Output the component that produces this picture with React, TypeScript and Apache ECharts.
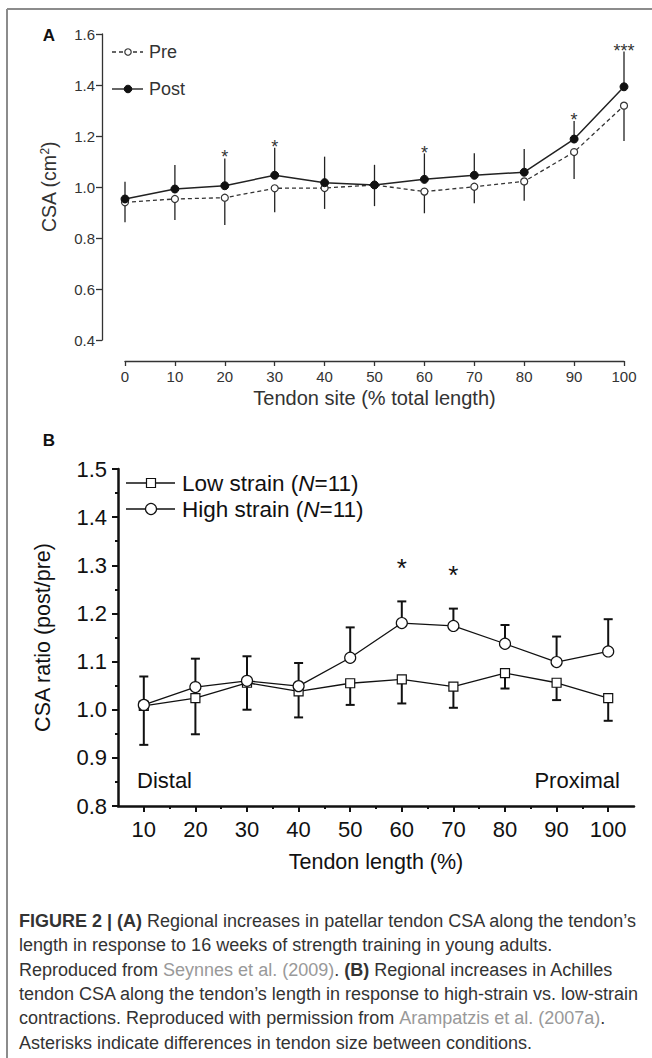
import React, { useEffect, useRef } from 'react';
import * as echarts from 'echarts';

const FONT = '"Liberation Sans", Arial, Helvetica, sans-serif';

// ---------- Panel A data ----------
const sitesA = [0, 10, 20, 30, 40, 50, 60, 70, 80, 90, 100];
const preA = [0.94, 0.953, 0.958, 0.995, 0.996, 1.008, 0.982, 1.001, 1.022, 1.137, 1.319];
const preLowerA = [0.862, 0.871, 0.851, 0.901, 0.914, 0.925, 0.897, 0.936, 0.946, 1.031, 1.18];
const postA = [0.953, 0.992, 1.005, 1.046, 1.017, 1.008, 1.03, 1.046, 1.058, 1.188, 1.393];
const postUpperA = [1.021, 1.086, 1.112, 1.154, 1.119, 1.087, 1.132, 1.132, 1.149, 1.259, 1.531];
const starSitesA = [20, 30, 60, 90, 100];
const starYA = [1.132, 1.172, 1.148, 1.278, 1.548];
const starTextA = ['*', '*', '*', '*', '***'];

// ---------- Panel B data ----------
const lengthsB = [10, 20, 30, 40, 50, 60, 70, 80, 90, 100];
const minorTicksB = [15, 25, 35, 45, 55, 65, 75, 85, 95];
const lowB = [1.008, 1.024, 1.056, 1.038, 1.055, 1.063, 1.048, 1.076, 1.056, 1.024];
const lowLowerB = [0.927, 0.949, 1.0, 0.984, 1.01, 1.013, 1.004, 1.044, 1.02, 0.977];
const highB = [1.01, 1.047, 1.06, 1.049, 1.108, 1.18, 1.174, 1.137, 1.099, 1.121];
const highUpperB = [1.069, 1.106, 1.111, 1.097, 1.171, 1.225, 1.21, 1.176, 1.152, 1.188];
const starLengthsB = [60, 70];
const starYB = [1.307, 1.291];
const starTextB = ['*', '*'];

const captionLines = [
  '{b|FIGURE 2 | (A)} Regional increases in patellar tendon CSA along the tendon\u2019s',
  'length in response to 16 weeks of strength training in young adults.',
  'Reproduced from {l|Seynnes et al. (2009)}. {b|(B)} Regional increases in Achilles',
  'tendon CSA along the tendon\u2019s length in response to high-strain vs. low-strain',
  'contractions. Reproduced with permission from {l|Arampatzis et al. (2007a)}.',
  'Asterisks indicate differences in tendon size between conditions.',
];

const INK_A = '#333';
const INK_B = '#111';
const FS_B = 22;

function errorBars(xi: number, yi: number, xs: number[], from: number[], to: number[], cap: number, width: number, color: string) {
  return {
    type: 'custom',
    xAxisIndex: xi,
    yAxisIndex: yi,
    z: 1,
    silent: true,
    data: xs.map((x, i) => [x, from[i], to[i]]),
    encode: { x: 0, y: [1, 2] },
    renderItem: (params: any, api: any) => {
      const a = api.coord([api.value(0), api.value(1)]);
      const b = api.coord([api.value(0), api.value(2)]);
      const children: any[] = [
        { type: 'line', shape: { x1: a[0], y1: a[1], x2: b[0], y2: b[1] }, style: { stroke: color, lineWidth: width } },
      ];
      if (cap > 0) {
        children.push({ type: 'line', shape: { x1: b[0] - cap, y1: b[1], x2: b[0] + cap, y2: b[1] }, style: { stroke: color, lineWidth: width } });
      }
      return { type: 'group', children };
    },
  };
}

function stars(xi: number, yi: number, xs: number[], ys: number[], texts: string[], fontSize: number, color: string) {
  return {
    type: 'custom',
    xAxisIndex: xi,
    yAxisIndex: yi,
    z: 5,
    silent: true,
    data: xs.map((x, i) => [x, ys[i]]),
    encode: { x: 0, y: 1 },
    renderItem: (params: any, api: any) => {
      const p = api.coord([api.value(0), api.value(1)]);
      return {
        type: 'text',
        x: p[0],
        y: p[1] + fontSize * 0.22,
        style: { text: texts[params.dataIndex], fontSize, fontFamily: FONT, fill: color, align: 'center', verticalAlign: 'middle' },
      };
    },
  };
}

export default function App() {
  const ref = useRef<HTMLDivElement>(null);
  useEffect(() => {
    if (!ref.current) return;
    const chart = echarts.init(ref.current, null, { renderer: 'svg' });

    const italic = { i: { fontStyle: 'italic', fontSize: 22.5, fontFamily: FONT, fill: INK_B } };
    const graphic: any[] = [
      // frame
      { type: 'line', shape: { x1: 7, y1: 9, x2: 652, y2: 9 }, style: { stroke: '#8c8c8c', lineWidth: 2 } },
      { type: 'line', shape: { x1: 7, y1: 9, x2: 7, y2: 1058 }, style: { stroke: '#8c8c8c', lineWidth: 2 } },
      // panel letters
      { type: 'text', x: 49, y: 35, style: { text: 'A', fontSize: 17, fontWeight: 'bold', fontFamily: FONT, fill: '#111', align: 'center', verticalAlign: 'middle' } },
      { type: 'text', x: 49, y: 440, style: { text: 'B', fontSize: 17, fontWeight: 'bold', fontFamily: FONT, fill: '#111', align: 'center', verticalAlign: 'middle' } },
      // legend A
      { type: 'line', shape: { x1: 112, y1: 52, x2: 143, y2: 52 }, style: { stroke: INK_A, lineWidth: 1.3, lineDash: [4, 3] } },
      { type: 'circle', shape: { cx: 128, cy: 52, r: 3.2 }, style: { fill: '#fff', stroke: INK_A, lineWidth: 1.2 } },
      { type: 'text', x: 149, y: 52, style: { text: 'Pre', fontSize: 18, fontFamily: FONT, fill: INK_A, verticalAlign: 'middle' } },
      { type: 'line', shape: { x1: 112, y1: 89, x2: 143, y2: 89 }, style: { stroke: INK_A, lineWidth: 1.5 } },
      { type: 'circle', shape: { cx: 128, cy: 89, r: 3.8 }, style: { fill: '#111', stroke: '#111', lineWidth: 1 } },
      { type: 'text', x: 149, y: 89, style: { text: 'Post', fontSize: 18, fontFamily: FONT, fill: INK_A, verticalAlign: 'middle' } },
      // legend B
      { type: 'line', shape: { x1: 126, y1: 483, x2: 175, y2: 483 }, style: { stroke: INK_B, lineWidth: 1.3 } },
      { type: 'rect', shape: { x: 146.5, y: 478.5, width: 9, height: 9 }, style: { fill: '#fff', stroke: INK_B, lineWidth: 1.2 } },
      { type: 'text', x: 182, y: 483, style: { text: 'Low strain ({i|N}=11)', rich: italic, fontSize: 22.5, fontFamily: FONT, fill: INK_B, verticalAlign: 'middle' } },
      { type: 'line', shape: { x1: 126, y1: 509, x2: 175, y2: 509 }, style: { stroke: INK_B, lineWidth: 1.3 } },
      { type: 'circle', shape: { cx: 151, cy: 509, r: 5.5 }, style: { fill: '#fff', stroke: INK_B, lineWidth: 1.2 } },
      { type: 'text', x: 182, y: 509, style: { text: 'High strain ({i|N}=11)', rich: italic, fontSize: 22.5, fontFamily: FONT, fill: INK_B, verticalAlign: 'middle' } },
      // Distal / Proximal
      { type: 'text', x: 137, y: 780, style: { text: 'Distal', fontSize: FS_B, fontFamily: FONT, fill: INK_B, verticalAlign: 'middle' } },
      { type: 'text', x: 620, y: 780, style: { text: 'Proximal', fontSize: FS_B, fontFamily: FONT, fill: INK_B, align: 'right', verticalAlign: 'middle' } },
    ];

    captionLines.forEach((line, i) => {
      graphic.push({
        type: 'text',
        x: 19,
        y: 921 + i * 24.3,
        style: {
          text: line,
          fontSize: 18,
          fontFamily: FONT,
          fill: '#333',
          verticalAlign: 'middle',
          rich: {
            b: { fontWeight: 'bold', fontSize: 18, fontFamily: FONT, fill: '#333' },
            l: { fontSize: 18, fontFamily: FONT, fill: '#999' },
          },
        },
      });
    });

    const option: any = {
      animation: false,
      backgroundColor: '#fff',
      grid: [
        { left: 125, top: 34, width: 499, height: 306 },
        { left: 118, top: 469, width: 516, height: 337 },
      ],
      xAxis: [
        {
          gridIndex: 0, type: 'value', position: 'bottom', min: 0, max: 100, interval: 10, offset: 21,
          axisLine: { onZero: false, lineStyle: { color: INK_A, width: 1.3 } },
          axisTick: { show: true, length: 5, lineStyle: { color: INK_A, width: 1.3 } },
          axisLabel: { fontSize: 15, color: INK_A, fontFamily: FONT, margin: 8 },
          splitLine: { show: false },
          name: 'Tendon site (% total length)', nameLocation: 'middle', nameGap: 27,
          nameTextStyle: { fontSize: 20, color: INK_A, fontFamily: FONT, verticalAlign: 'top' },
        },
        {
          gridIndex: 1, type: 'value', position: 'bottom', min: 5, max: 105,
          axisLine: { onZero: false, lineStyle: { color: INK_B, width: 2.5 } },
          axisTick: { show: true, length: 6, customValues: lengthsB, lineStyle: { color: INK_B, width: 2 } },
          axisLabel: { fontSize: FS_B, color: INK_B, fontFamily: FONT, margin: 12, customValues: lengthsB },
          splitLine: { show: false },
          name: 'Tendon length (%)', nameLocation: 'middle', nameGap: 45,
          nameTextStyle: { fontSize: 21.5, color: INK_B, fontFamily: FONT, verticalAlign: 'top' },
        },
        {
          gridIndex: 1, type: 'value', position: 'bottom', min: 5, max: 105,
          axisLine: { show: false, onZero: false },
          axisTick: { show: true, length: 3, customValues: minorTicksB, lineStyle: { color: INK_B, width: 2 } },
          axisLabel: { show: false },
          splitLine: { show: false },
        },
      ],
      yAxis: [
        {
          gridIndex: 0, type: 'value', position: 'left', min: 0.4, max: 1.6, interval: 0.2, offset: 23,
          axisLine: { show: true, onZero: false, lineStyle: { color: INK_A, width: 1.3 } },
          axisTick: { show: true, length: 6, lineStyle: { color: INK_A, width: 1.3 } },
          axisLabel: { fontSize: 15, color: INK_A, fontFamily: FONT, margin: 7, formatter: (v: number) => v.toFixed(1) },
          splitLine: { show: false },
          name: 'CSA (cm{sup|2})', nameLocation: 'middle', nameGap: 43,
          nameTextStyle: { fontSize: 19.5, color: INK_A, fontFamily: FONT, rich: { sup: { fontSize: 12, color: INK_A, fontFamily: FONT, padding: [0, 0, 8, 0] } } },
        },
        {
          gridIndex: 1, type: 'value', position: 'left', min: 0.8, max: 1.5, interval: 0.1,
          axisLine: { show: true, onZero: false, lineStyle: { color: INK_B, width: 2.5 } },
          axisTick: { show: true, length: 6, lineStyle: { color: INK_B, width: 2 } },
          minorTick: { show: true, splitNumber: 2, length: 3, lineStyle: { color: INK_B, width: 2 } },
          axisLabel: { fontSize: FS_B, color: INK_B, fontFamily: FONT, margin: 11, formatter: (v: number) => v.toFixed(1) },
          splitLine: { show: false },
          minorSplitLine: { show: false },
          name: 'CSA ratio (post/pre)', nameLocation: 'middle', nameGap: 64,
          nameTextStyle: { fontSize: 21.5, color: INK_B, fontFamily: FONT },
        },
      ],
      series: [
        errorBars(0, 0, sitesA, preA, preLowerA, 0, 1.3, '#222'),
        errorBars(0, 0, sitesA, postA, postUpperA, 0, 1.3, '#222'),
        {
          type: 'line', name: 'Pre', xAxisIndex: 0, yAxisIndex: 0, z: 3,
          data: sitesA.map((x, i) => [x, preA[i]]),
          symbol: 'circle', symbolSize: 7,
          itemStyle: { color: '#fff', borderColor: INK_A, borderWidth: 1.2 },
          lineStyle: { color: INK_A, width: 1.3, type: [4, 3] },
        },
        {
          type: 'line', name: 'Post', xAxisIndex: 0, yAxisIndex: 0, z: 4,
          data: sitesA.map((x, i) => [x, postA[i]]),
          symbol: 'circle', symbolSize: 8,
          itemStyle: { color: '#111', borderColor: '#111', borderWidth: 1 },
          lineStyle: { color: '#222', width: 1.5 },
        },
        stars(0, 0, starSitesA, starYA, starTextA, 18, INK_A),
        errorBars(1, 1, lengthsB, lowB, lowLowerB, 4.5, 2, INK_B),
        errorBars(1, 1, lengthsB, highB, highUpperB, 4.5, 2, INK_B),
        {
          type: 'line', name: 'Low strain', xAxisIndex: 1, yAxisIndex: 1, z: 3,
          data: lengthsB.map((x, i) => [x, lowB[i]]),
          symbol: 'rect', symbolSize: 9,
          itemStyle: { color: '#fff', borderColor: INK_B, borderWidth: 1.2 },
          lineStyle: { color: INK_B, width: 1.3 },
        },
        {
          type: 'line', name: 'High strain', xAxisIndex: 1, yAxisIndex: 1, z: 4,
          data: lengthsB.map((x, i) => [x, highB[i]]),
          symbol: 'circle', symbolSize: 11,
          itemStyle: { color: '#fff', borderColor: INK_B, borderWidth: 1.2 },
          lineStyle: { color: INK_B, width: 1.3 },
        },
        stars(1, 1, starLengthsB, starYB, starTextB, 26, INK_B),
      ],
      graphic,
    };

    chart.setOption(option);
    return () => chart.dispose();
  }, []);

  return <div ref={ref} style={{ position: 'absolute', left: 0, top: 0, width: 652, height: 1058, background: '#fff' }} />;
}
